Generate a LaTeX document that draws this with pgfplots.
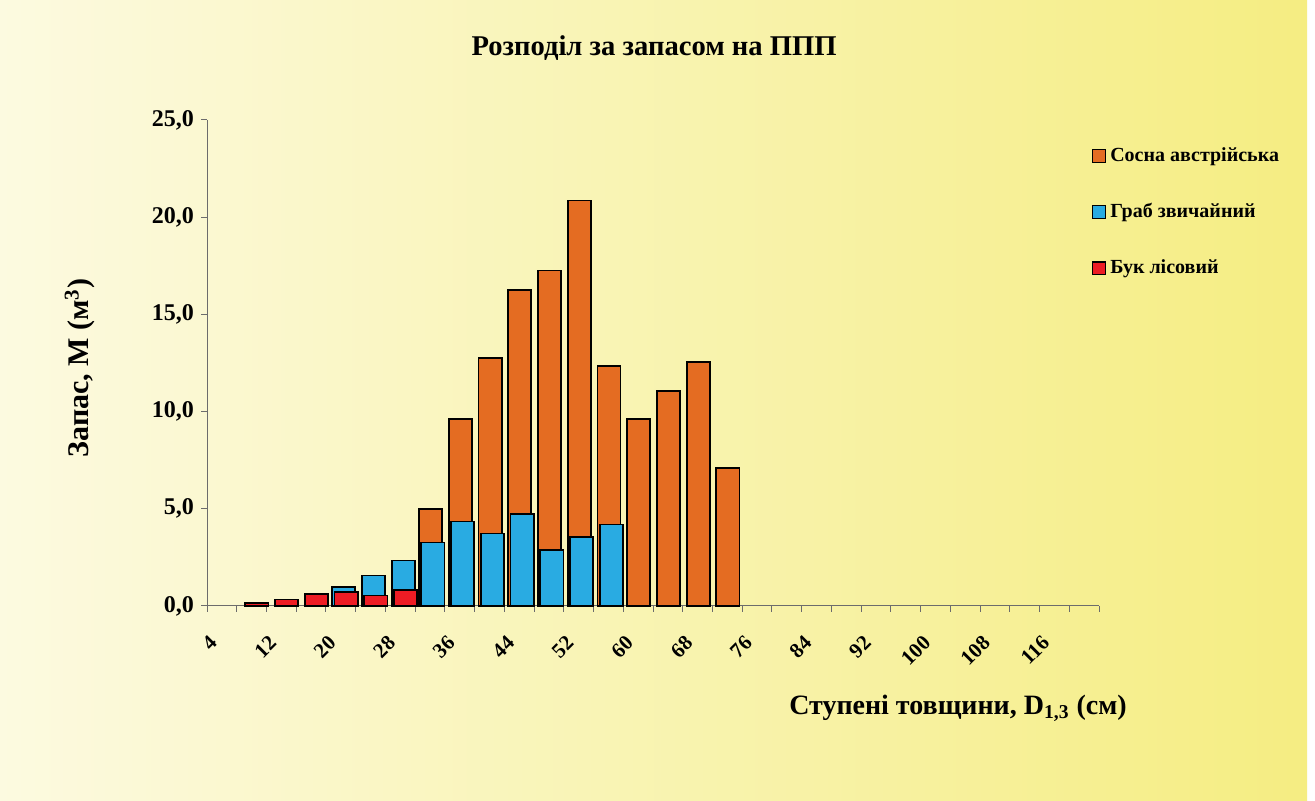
\documentclass[border=0pt]{standalone}
\usepackage{pgfplots}
\pgfplotsset{compat=1.18}
\usepackage{fontspec}
\setmainfont{Liberation Serif}
\definecolor{cOr}{RGB}{228,108,34}
\definecolor{cBl}{RGB}{41,171,226}
\definecolor{cRd}{RGB}{237,28,36}
\definecolor{bgL}{RGB}{252,250,224}
\definecolor{bgR}{RGB}{245,237,130}
\begin{document}
\begin{tikzpicture}[x=0.5pt,y=0.5pt]
\fill[white] (0,0) rectangle (1315,801);
\shade[left color=bgL,right color=bgR] (0,0) rectangle (1307,801);
\node[font=\bfseries\fontsize{14.3}{16}\selectfont] at (654,753) {Розподіл за запасом на ППП};
\node[font=\bfseries\fontsize{15}{17}\selectfont, rotate=90] at (80,433) {Запас, М (м\textsuperscript{3})};
\node[font=\bfseries\fontsize{14}{16}\selectfont] at (958,93) {Ступені товщини, D\textsubscript{1,3} (см)};
\begin{axis}[
  at={(103.5pt,97.5pt)}, anchor=south west, scale only axis,
  width=446pt, height=243pt,
  xmin=0, xmax=30, ymin=0, ymax=25,
  axis lines*=left,
  axis line style={draw=gray!85!black, line width=0.5pt},
  tick align=outside,
  tick style={draw=gray!85!black, line width=0.5pt},
  major tick length=3pt, minor tick length=3pt,
  xtick={0.5,2.5,...,28.5},
  xticklabels={4,12,20,28,36,44,52,60,68,76,84,92,100,108,116},
  minor xtick={0,1,...,30},
  major x tick style={draw=none},
  ytick={0,5,...,25},
  yticklabel style={font=\bfseries\fontsize{12}{14}\selectfont, /pgf/number format/.cd, fixed, fixed zerofill, precision=1, use comma, assume math mode=true},
  xticklabel style={font=\bfseries\fontsize{10.5}{12}\selectfont, xshift=-1.8pt, yshift=-11.3pt, rotate=45, anchor=east},
  legend style={at={(0.992,0.952)}, anchor=north west, draw=none, fill=none,
    font=\bfseries\fontsize{10}{11}\selectfont, row sep=15.5pt, inner sep=0pt},
  legend cell align=left,
  legend image code/.code={\draw[#1, line width=0.6pt] (0pt,-3.2pt) rectangle (6.4pt,3.2pt);},
  clip=false,
]
\addplot[ybar, bar width=0.78, bar shift=0.02, fill=cOr, draw=black, line width=0.9pt]
  coordinates {(7.5,5.0)(8.5,9.63)(9.5,12.77)(10.5,16.25)(11.5,17.26)(12.5,20.86)(13.5,12.33)(14.5,9.6)(15.5,11.05)(16.5,12.56)(17.5,7.08)};
\addlegendentry{Сосна австрійська}
\addplot[ybar, bar width=0.78, bar shift=0.1, fill=cBl, draw=black, line width=0.9pt]
  coordinates {(4.5,0.98)(5.5,1.57)(6.5,2.34)(7.5,3.27)(8.5,4.35)(9.5,3.73)(10.5,4.72)(11.5,2.9)(12.5,3.53)(13.5,4.19)};
\addlegendentry{Граб звичайний}
\addplot[ybar, bar width=0.78, bar shift=0.18, fill=cRd, draw=black, line width=0.9pt]
  coordinates {(1.5,0.15)(2.5,0.33)(3.5,0.63)(4.5,0.72)(5.5,0.54)(6.5,0.82)};
\addlegendentry{Бук лісовий}
\end{axis}
\end{tikzpicture}
\end{document}
